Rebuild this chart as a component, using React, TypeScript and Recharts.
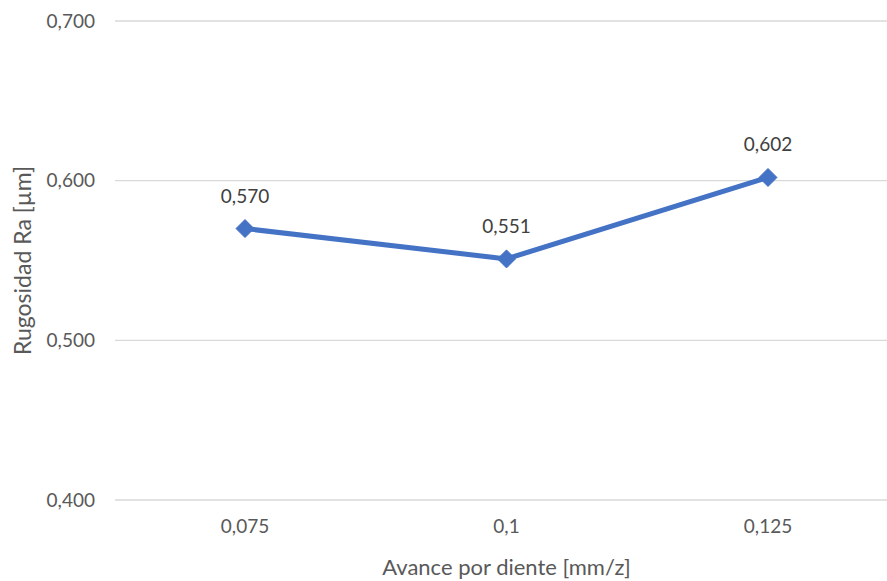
import React from 'react';
import { LineChart, Line, XAxis, YAxis, CartesianGrid, LabelList, Label } from 'recharts';

// feed per tooth [mm/z] and measured roughness Ra [µm]
const avances = ['0,075', '0,1', '0,125'];
const rugosidad = [0.57, 0.551, 0.602];
const yTicks = [0.4, 0.5, 0.6, 0.7];

const data = avances.map((avance, i) => ({ avance, ra: rugosidad[i] }));

const FONT = 'Lato, "Open Sans", sans-serif';
const BLUE = '#4472C4';
const fmt = (v: number) => v.toFixed(3).replace('.', ',');

const Diamond = (props: any) => {
  const { cx, cy } = props;
  const r = 9;
  return (
    <polygon
      points={`${cx},${cy - r} ${cx + r},${cy} ${cx},${cy + r} ${cx - r},${cy}`}
      fill={BLUE}
      stroke={BLUE}
    />
  );
};

export default function App() {
  return (
    <div style={{ position: 'absolute', left: 0, top: 0, width: 887, height: 581, overflow: 'hidden', background: '#fff' }}>
      <LineChart
        width={898}
        height={581}
        data={data}
        margin={{ top: 21, right: 0, bottom: 0, left: 0 }}
      >
        <CartesianGrid vertical={false} stroke="#d9d9d9" strokeWidth={1.3} />
        <XAxis
          dataKey="avance"
          axisLine={false}
          tickLine={false}
          height={81}
          padding={{ left: 130, right: 130 }}
          tick={{ fill: '#595959', fontSize: 19, fontFamily: FONT }}
          tickMargin={14}
        >
          <Label
            value="Avance por diente [mm/z]"
            position="insideBottom"
            offset={6}
            style={{ fill: '#595959', fontSize: 22, fontFamily: FONT }}
          />
        </XAxis>
        <YAxis
          domain={[0.4, 0.7]}
          ticks={yTicks}
          axisLine={false}
          tickLine={false}
          width={115}
          tickMargin={14}
          tickFormatter={fmt}
          tick={{ fill: '#595959', fontSize: 19, fontFamily: FONT }}
        >
          <Label
            value="Rugosidad Ra [µm]"
            angle={-90}
            position="insideLeft"
            offset={23}
            style={{ fill: '#595959', fontSize: 23, fontFamily: FONT, textAnchor: 'middle' }}
          />
        </YAxis>
        <Line
          type="linear"
          dataKey="ra"
          stroke={BLUE}
          strokeWidth={5}
          dot={<Diamond />}
          activeDot={false}
          isAnimationActive={false}
        >
          <LabelList
            dataKey="ra"
            position="top"
            offset={26}
            formatter={(v: any) => fmt(Number(v))}
            style={{ fill: '#404040', fontSize: 19, fontFamily: FONT }}
          />
        </Line>
      </LineChart>
    </div>
  );
}
